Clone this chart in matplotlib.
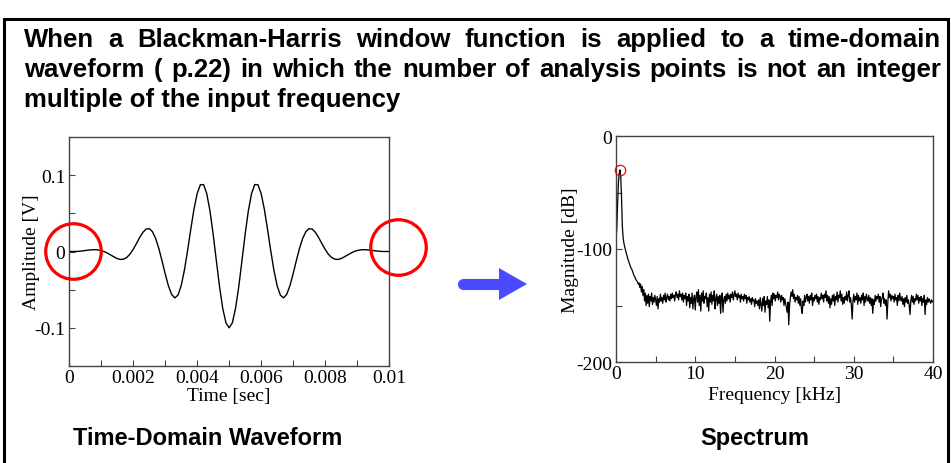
import numpy as np
import matplotlib.pyplot as plt
from matplotlib.lines import Line2D
from matplotlib.patches import Rectangle, Polygon

plt.rcParams['axes.unicode_minus'] = False

# ---- data ----
title_lines = [
    "When a Blackman-Harris window function is applied to a time-domain",
    "waveform ( p.22) in which the number of analysis points is not an integer",
    "multiple of the input frequency",
]

time_step = 0.0001  # sec
waveform = [
    0.0000, 0.0000, 0.0000, 0.0003, 0.0007, 0.0013, 0.0018, 0.0022, 0.0024, 0.0021,
    0.0012, -0.0002, -0.0023, -0.0047, -0.0071, -0.0093, -0.0104, -0.0100, -0.0077, -0.0033,
    0.0029, 0.0104, 0.0182, 0.0250, 0.0293, 0.0300, 0.0260, 0.0172, 0.0040, -0.0122,
    -0.0294, -0.0450, -0.0562, -0.0608, -0.0571, -0.0447, -0.0245, 0.0012, 0.0292, 0.0555,
    0.0760, 0.0875, 0.0877, 0.0758, 0.0532, 0.0225, -0.0122, -0.0462, -0.0746, -0.0934,
    -0.1000,
    -0.0934, -0.0746, -0.0462, -0.0122, 0.0225, 0.0532, 0.0758, 0.0877, 0.0875, 0.0760,
    0.0555, 0.0292, 0.0012, -0.0245, -0.0447, -0.0571, -0.0608, -0.0562, -0.0450, -0.0294,
    -0.0122, 0.0040, 0.0172, 0.0260, 0.0300, 0.0293, 0.0250, 0.0182, 0.0104, 0.0029,
    -0.0033, -0.0077, -0.0100, -0.0104, -0.0093, -0.0071, -0.0047, -0.0023, -0.0002, 0.0012,
    0.0021, 0.0024, 0.0022, 0.0018, 0.0013, 0.0007, 0.0003, 0.0000, 0.0000, 0.0000,
]

freq_step = 0.1  # kHz
spectrum = [
    -92, -82, -60, -42, -33, -30, -36, -55, -80, -90,
    -95, -98, -101, -104, -106, -109, -111, -113, -115, -117,
    -118, -120, -122, -124, -125, -127, -128, -129, -131, -130,
    -134, -131, -138, -133, -141, -136, -146, -139, -150, -141,
    -148, -140, -151, -142, -146, -139, -149, -143, -147, -141,
    -145, -150, -142, -153, -144, -147, -140, -146, -143, -148,
    -141, -145, -139, -147, -143, -140, -145, -142, -146, -140,
    -144, -139, -143, -141, -146, -140, -138, -143, -140, -145,
    -137, -142, -140, -145, -139, -147, -141, -144, -139, -150,
    -142, -146, -140, -152, -143, -148, -139, -153, -144, -141,
    -154, -142, -138, -147, -136, -150, -141, -155, -139, -146,
    -137, -148, -142, -144, -139, -151, -143, -155, -140, -147,
    -138, -149, -141, -146, -137, -153, -144, -140, -150, -142,
    -148, -141, -157, -143, -139, -156, -145, -142, -148, -140,
    -146, -139, -144, -141, -147, -140, -143, -138, -145, -141,
    -137, -142, -140, -145, -139, -143, -141, -147, -140, -144,
    -142, -146, -140, -144, -141, -148, -143, -145, -142, -147,
    -144, -149, -143, -146, -145, -151, -144, -148, -146, -150,
    -145, -153, -143, -149, -155, -144, -150, -142, -156, -146,
    -149, -142, -152, -145, -164, -147, -141, -150, -139, -144,
    -140, -146, -141, -143, -138, -145, -140, -142, -147, -141,
    -145, -143, -150, -144, -148, -152, -156, -147, -167, -150,
    -143, -138, -142, -136, -144, -140, -147, -143, -145, -141,
    -148, -142, -150, -144, -153, -157, -146, -150, -141, -147,
    -143, -140, -146, -142, -148, -141, -145, -139, -150, -143,
    -146, -141, -144, -140, -147, -142, -149, -143, -145, -139,
    -144, -141, -147, -140, -143, -137, -146, -141, -148, -142,
    -152, -144, -149, -141, -146, -140, -150, -142, -145, -138,
    -147, -141, -143, -137, -146, -140, -149, -143, -148, -142,
    -145, -138, -146, -141, -137, -147, -143, -150, -162, -146,
    -140, -147, -142, -145, -139, -149, -141, -146, -143, -148,
    -141, -145, -139, -150, -142, -147, -140, -144, -146, -141,
    -148, -143, -150, -144, -157, -145, -149, -141, -146, -142,
    -144, -140, -147, -142, -151, -145, -143, -139, -148, -144,
    -150, -145, -162, -147, -137, -143, -140, -146, -141, -144,
    -142, -147, -140, -145, -143, -150, -141, -146, -139, -144,
    -146, -142, -149, -144, -151, -143, -147, -141, -148, -145,
    -150, -158, -146, -141, -147, -142, -149, -144, -146, -140,
    -145, -141, -148, -143, -146, -142, -150, -144, -147, -141,
    -158, -145, -149, -143, -147, -144, -146, -148, -145, -147,
    -146,
]

caption_left = "Time-Domain Waveform"
caption_right = "Spectrum"

W, H = 951, 464
fig = plt.figure(figsize=(W / 100, H / 100), dpi=100)

serif = ['Liberation Serif', 'DejaVu Serif']
sans = ['Liberation Sans', 'DejaVu Sans']
axis_fs = 14


def px(x0, y_top, x1, y_bot):
    # pixel box -> figure fraction [left, bottom, width, height]
    return [x0 / W, 1 - y_bot / H, (x1 - x0) / W, (y_bot - y_top) / H]


def style_axes(ax):
    for s in ax.spines.values():
        s.set_color('#444444')
        s.set_linewidth(1.0)
    ax.tick_params(which='both', direction='in', length=4, width=0.8,
                   color='#444444', labelsize=axis_fs)
    ax.tick_params(axis='x', pad=2)
    ax.tick_params(axis='y', pad=3)
    for lab in ax.get_xticklabels() + ax.get_yticklabels():
        lab.set_family(serif)


# ---- time-domain waveform ----
t = np.arange(len(waveform)) * time_step
ax1 = fig.add_axes(px(69.3, 138, 389, 367))
ax1.plot(t, waveform, color='black', lw=1.0)
ax1.set_xlim(0, 0.01)
ax1.set_ylim(-0.15, 0.15)
ax1.set_xticks([0, 0.002, 0.004, 0.006, 0.008, 0.01])
ax1.set_xticklabels(['0', '0.002', '0.004', '0.006', '0.008', '0.01'])
ax1.set_xticks(np.arange(0.001, 0.01, 0.002), minor=True)
ax1.set_yticks([-0.1, 0, 0.1])
ax1.set_yticklabels(['-0.1', '0', '0.1'])
ax1.set_yticks([-0.05, 0.05], minor=True)
ax1.set_xlabel('Time [sec]', family=serif, fontsize=axis_fs)
ax1.set_ylabel('Amplitude [V]', family=serif, fontsize=axis_fs)
ax1.xaxis.set_label_coords(0.5, -0.131)
ax1.yaxis.set_label_coords(-0.118, 0.5)
style_axes(ax1)

# red circles marking the ends of the record
for xc, yc in ((0.000125, 0.0005), (0.01028, 0.006)):
    ax1.plot(xc, yc, 'o', ms=40, mfc='none', mec='#ff0000', mew=2.3,
             clip_on=False, zorder=5)

# ---- spectrum ----
f = np.arange(len(spectrum)) * freq_step
ax2 = fig.add_axes(px(616, 137, 933, 363))
ax2.plot(f, spectrum, color='black', lw=0.9)
ax2.set_xlim(0, 40)
ax2.set_ylim(-200, 0)
ax2.set_xticks([0, 10, 20, 30, 40])
ax2.set_xticks([5, 15, 25, 35], minor=True)
ax2.set_yticks([-200, -100, 0])
ax2.set_yticks([-150, -50], minor=True)
ax2.set_xlabel('Frequency [kHz]', family=serif, fontsize=axis_fs)
ax2.set_ylabel('Magnitude [dB]', family=serif, fontsize=axis_fs)
ax2.xaxis.set_label_coords(0.5, -0.142)
ax2.yaxis.set_label_coords(-0.145, 0.5)
style_axes(ax2)

for lab in (ax1.xaxis.label, ax2.xaxis.label, ax1.yaxis.label, ax2.yaxis.label):
    lab.set_va('center')

ipk = int(np.argmax(spectrum))
ax2.plot(f[ipk], spectrum[ipk], 'o', ms=7.5, mfc='none', mec='#ff0000',
         mew=0.9, clip_on=False, zorder=5)

# ---- arrow ----
arrow_color = '#4a4aff'
fig.add_artist(Line2D([462.5 / W, 500 / W], [1 - 285 / H, 1 - 285 / H],
                      lw=8, color=arrow_color, solid_capstyle='round'))
fig.add_artist(Polygon([(499 / W, 1 - 269 / H), (527 / W, 1 - 285 / H),
                        (499 / W, 1 - 301 / H)], closed=True,
                       facecolor=arrow_color, edgecolor='none'))

# ---- frame ----
fig.add_artist(Rectangle((4 / W, -0.05), 944 / W, 1.05 - 20 / H,
                         fill=False, edgecolor='black', lw=2.2))

# ---- captions ----
cap_kw = dict(family=sans, fontweight='bold', fontsize=17, va='baseline')
fig.text(208 / W, 1 - 445 / H, caption_left, ha='center', **cap_kw)
fig.text(755 / W, 1 - 445 / H, caption_right, ha='center', **cap_kw)

# ---- justified title ----
title_kw = dict(cap_kw, fontsize=18.5)
fig.canvas.draw()
renderer = fig.canvas.get_renderer()
x_left, x_right = 24, 941
baselines = [46.7, 76.7, 106.7]
for i, line in enumerate(title_lines):
    y = 1 - baselines[i] / H
    if i == len(title_lines) - 1:
        fig.text(x_left / W, y, line, ha='left', **title_kw)
        continue
    words = line.split(' ')
    texts = [fig.text(0, y, w_, ha='left', **title_kw) for w_ in words]
    widths = [tx.get_window_extent(renderer).width for tx in texts]
    gap = (x_right - x_left - sum(widths)) / (len(words) - 1)
    x = x_left
    for tx, wd in zip(texts, widths):
        tx.set_x(x / W)
        x += wd + gap

fig.savefig('out.png', dpi=100)
